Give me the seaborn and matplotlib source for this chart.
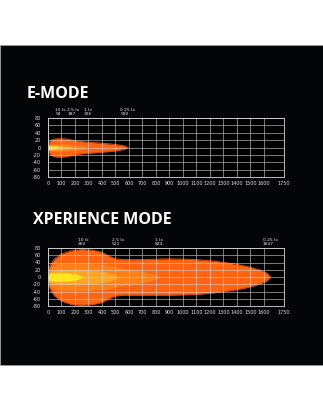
import numpy as np
import pandas as pd
import matplotlib
matplotlib.use("Agg")
import matplotlib.pyplot as plt
import seaborn as sns
from matplotlib.patches import Rectangle
from matplotlib import font_manager

# ---------------- data ----------------
X_TICKS = [0, 100, 200, 300, 400, 500, 600, 700, 800, 900, 1000, 1100, 1200, 1300, 1400, 1500, 1600, 1750]
Y_TICKS = [80, 60, 40, 20, 0, -20, -40, -60, -80]

LEVELS = ["10 lx", "2.5 lx", "1 lx", "0.25 lx"]
E_REACH = [94, 187, 296, 592]
X_REACH = [260, 521, 824, 1647]

# E-MODE iso-lux contours (distance m, upper width, lower width)
E_025_X = [0, 5, 20, 50, 90, 130, 180, 250, 350, 450, 520, 570, 592]
E_025_T = [0, 12, 19, 23, 24, 23, 20, 16, 13, 10, 7, 4, 0]
E_025_B = [0, -12, -20, -25, -26, -25, -21, -17, -14, -11, -8, -4, 0]
E_1_X = [0, 5, 30, 100, 200, 260, 296]
E_1_T = [0, 7, 10, 10, 8, 5, 0]
E_1_B = [0, -7, -10, -10, -8, -5, 0]
E_25_X = [0, 5, 30, 100, 160, 187]
E_25_T = [0, 6, 7, 6, 4, 0]
E_25_B = [0, -6, -7, -6, -4, 0]
E_10_X = [0, 3, 20, 60, 94]
E_10_T = [0, 5, 5, 4, 0]
E_10_B = [0, -5, -5, -4, 0]

# XPERIENCE MODE iso-lux contours
X_025_X = [0, 5, 20, 50, 100, 170, 250, 330, 400, 450, 500, 560, 700, 900, 1100, 1250, 1400, 1500, 1580, 1625, 1647]
X_025_T = [0, 22, 35, 50, 63, 72, 76, 74, 68, 58, 50, 48, 48, 50, 48, 43, 35, 27, 18, 10, 0]
X_025_B = [0, -22, -36, -52, -66, -75, -78, -76, -70, -60, -52, -50, -50, -50, -48, -43, -35, -27, -18, -10, 0]
X_1_X = [0, 5, 20, 60, 150, 300, 450, 530, 600, 700, 780, 824]
X_1_T = [0, 20, 30, 36, 38, 37, 33, 25, 22, 16, 8, 0]
X_1_B = [0, -20, -30, -36, -38, -37, -33, -25, -22, -16, -8, 0]
X_25_X = [0, 5, 20, 60, 150, 300, 420, 480, 521]
X_25_T = [0, 12, 17, 20, 21, 20, 15, 9, 0]
X_25_B = [0, -12, -17, -20, -21, -20, -15, -9, 0]
X_10_X = [0, 5, 20, 60, 150, 220, 260]
X_10_T = [0, 8, 11, 12, 11, 7, 0]
X_10_B = [0, -8, -11, -12, -11, -7, 0]

COLORS = {"0.25 lx": "#FF6412", "1 lx": "#FF8016", "2.5 lx": "#FFA526", "10 lx": "#FFE620"}
EDGE = "#D8460C"

# ---------------- figure ----------------
sns.set_style("dark")
plt.rcParams["font.family"] = ["DejaVu Sans"]
avail = {f.name for f in font_manager.fontManager.ttflist}
SMALL = ["Liberation Sans Narrow", "DejaVu Sans"] if "Liberation Sans Narrow" in avail else ["DejaVu Sans"]
SMALL_SIZE = 4.6 if "Liberation Sans Narrow" in avail else 3.5

W, H = 323, 411
fig = plt.figure(figsize=(W / 100, H / 100), dpi=100, facecolor="white")
fig.patches.append(Rectangle((0, 1 - 365 / H), 1, 320 / H, transform=fig.transFigure,
                             facecolor="#030507", edgecolor="#9a9a9a", linewidth=0.6, zorder=-5))


def panel(bottom_px, top_px, contours, reach, title, title_x, title_base):
    ax = fig.add_axes([48 / W, 1 - bottom_px / H, 236 / W, (bottom_px - top_px) / H])
    ax.set_zorder(2)
    ax.set_facecolor("#000000")
    for lvl in ["0.25 lx", "1 lx", "2.5 lx", "10 lx"]:
        xs, ts, bs = contours[lvl]
        df = pd.DataFrame({"x": xs + xs, "y": ts + bs, "side": ["t"] * len(xs) + ["b"] * len(xs)})
        ax.fill_between(xs, bs, ts, color=COLORS[lvl], linewidth=0, zorder=2)
        if lvl == "0.25 lx":
            sns.lineplot(data=df, x="x", y="y", units="side", estimator=None, color=EDGE,
                         linewidth=0.8, ax=ax, zorder=2.5, legend=False)
    ax.set_xlim(0, 1750)
    ax.set_ylim(-80, 80)
    ax.set_xticks(X_TICKS)
    ax.set_yticks(Y_TICKS)
    ax.set_xticklabels([str(v) for v in X_TICKS])
    ax.set_yticklabels([str(v) for v in Y_TICKS])
    for lab in ax.get_xticklabels() + ax.get_yticklabels():
        lab.set_family(SMALL)
        lab.set_fontsize(SMALL_SIZE)
    ax.tick_params(axis="both", colors="#dddddd", length=0, pad=3)
    ax.tick_params(axis="y", pad=5)
    ax.grid(True, color="#d6d6d6", linewidth=0.5, alpha=0.8, zorder=3)
    ax.set_axisbelow(False)
    for sp in ax.spines.values():
        sp.set_color("#d6d6d6")
        sp.set_linewidth(0.6)
    ax.set_xlabel("")
    ax.set_ylabel("")
    for lvl, r in zip(LEVELS, reach):
        ax.annotate(f"{lvl}\n{r}", xy=(r, 80), xytext=(0, 1.5), textcoords="offset points",
                    ha="center", va="bottom", ma="left", fontsize=SMALL_SIZE - 0.3, color="#e8e8e8",
                    family=SMALL, linespacing=0.85, annotation_clip=False)
    fig.text(title_x / W, 1 - title_base / H, title, fontsize=11.5, fontweight="bold",
             family=["Open Sans", "DejaVu Sans"], color="white", ha="left", va="baseline")
    return ax


e_cont = {"0.25 lx": (E_025_X, E_025_T, E_025_B), "1 lx": (E_1_X, E_1_T, E_1_B),
          "2.5 lx": (E_25_X, E_25_T, E_25_B), "10 lx": (E_10_X, E_10_T, E_10_B)}
x_cont = {"0.25 lx": (X_025_X, X_025_T, X_025_B), "1 lx": (X_1_X, X_1_T, X_1_B),
          "2.5 lx": (X_25_X, X_25_T, X_25_B), "10 lx": (X_10_X, X_10_T, X_10_B)}

panel(177, 118, e_cont, E_REACH, "E-MODE", 27, 98.5)
panel(306, 248, x_cont, X_REACH, "XPERIENCE MODE", 33, 223.5)

fig.savefig("out.png", dpi=100, facecolor="white")
